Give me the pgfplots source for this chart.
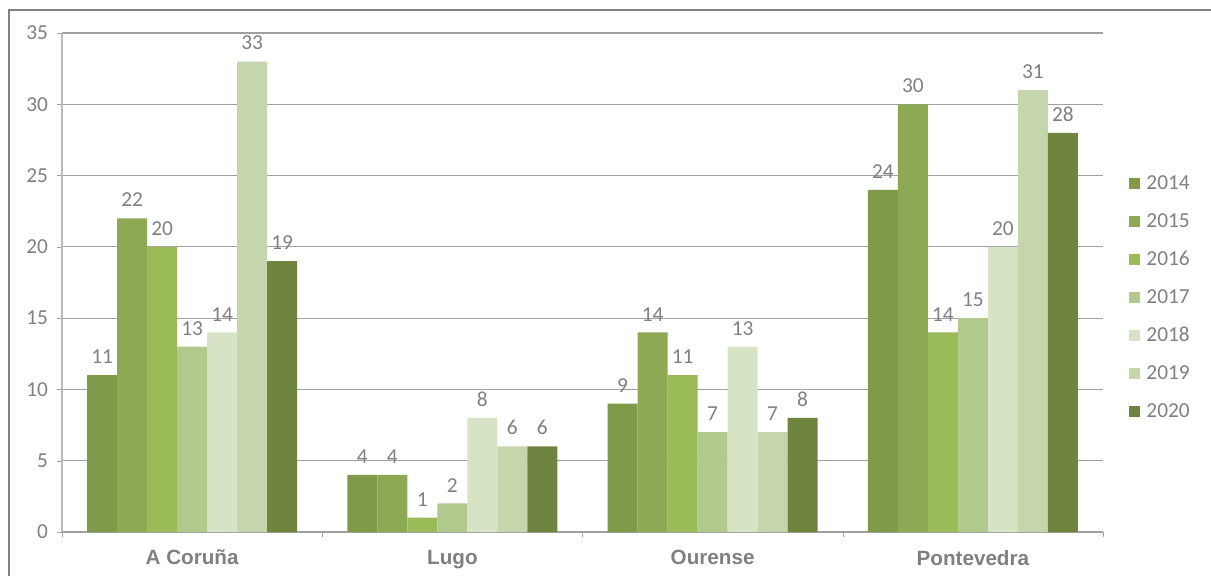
\documentclass[border=0pt]{standalone}
\usepackage{pgfplots}
\pgfplotsset{compat=1.18}
\usepackage{fontspec}
\setmainfont{Carlito}
\newfontfamily\arialfont{Liberation Sans}
\definecolor{cA}{HTML}{7F9A48}
\definecolor{cB}{HTML}{8DA953}
\definecolor{cC}{HTML}{9BBB59}
\definecolor{cD}{HTML}{B1C98C}
\definecolor{cE}{HTML}{D7E3C5}
\definecolor{cF}{HTML}{C6D6AC}
\definecolor{cG}{HTML}{6F843F}
\definecolor{txt}{HTML}{808080}
\definecolor{gridc}{HTML}{A0A0A0}
\begin{document}
\begin{tikzpicture}
\path[use as bounding box] (0,0) rectangle (908.25pt,432pt);
\draw[txt, line width=1.5pt] (6.75pt,0) -- (6.75pt,424.5pt) -- (908.25pt,424.5pt);
\begin{axis}[
  at={(46.5pt,33pt)}, anchor=south west,
  scale only axis,
  width=780.75pt, height=374.25pt,
  ybar=0pt,
  bar width=22.5pt,
  xmin=-0.5, xmax=3.5,
  ymin=0, ymax=35,
  ytick={0,5,...,35},
  xtick={0,1,2,3},
  xticklabels={A Coruña, Lugo, Ourense, Pontevedra},
  xticklabel style={font=\arialfont\bfseries\fontsize{15.5}{17}\selectfont, text=txt, yshift=-6pt},
  yticklabel style={font=\fontsize{16}{18}\selectfont, text=txt, xshift=-3pt},
  /pgf/number format/assume math mode=true,
  major x tick style={draw=none},
  minor xtick={-0.5,0.5,1.5,2.5,3.5},
  minor x tick style={gridc},
  minor tick length=4pt,
  major tick length=4pt,
  tick align=outside,
  y tick style={gridc},
  axis x line*=bottom,
  axis y line*=left,
  x axis line style={gridc, line width=0.9pt},
  y axis line style={gridc!70, line width=0.9pt},
  ymajorgrids,
  grid style={gridc, line width=0.9pt},
  nodes near coords,
  every node near coord/.append style={font=\fontsize{16}{18}\selectfont, text=txt, yshift=5pt},
  legend style={at={(1.021,0.725)}, anchor=north west, draw=none, fill=none,
    font=\fontsize{16}{18}\selectfont, text=txt, row sep=12.4pt},
  legend cell align=left,
  legend image code/.code={\fill[#1] (0pt,-4pt) rectangle (8pt,4pt); \path (0pt,0pt) -- (11pt,0pt);},
]
\addplot[fill=cA, draw=none] coordinates {(0,11) (1,4) (2,9) (3,24)};
\addplot[fill=cB, draw=none] coordinates {(0,22) (1,4) (2,14) (3,30)};
\addplot[fill=cC, draw=none] coordinates {(0,20) (1,1) (2,11) (3,14)};
\addplot[fill=cD, draw=none] coordinates {(0,13) (1,2) (2,7) (3,15)};
\addplot[fill=cE, draw=none] coordinates {(0,14) (1,8) (2,13) (3,20)};
\addplot[fill=cF, draw=none] coordinates {(0,33) (1,6) (2,7) (3,31)};
\addplot[fill=cG, draw=none] coordinates {(0,19) (1,6) (2,8) (3,28)};
\legend{2014,2015,2016,2017,2018,2019,2020}
\end{axis}
\end{tikzpicture}
\end{document}
